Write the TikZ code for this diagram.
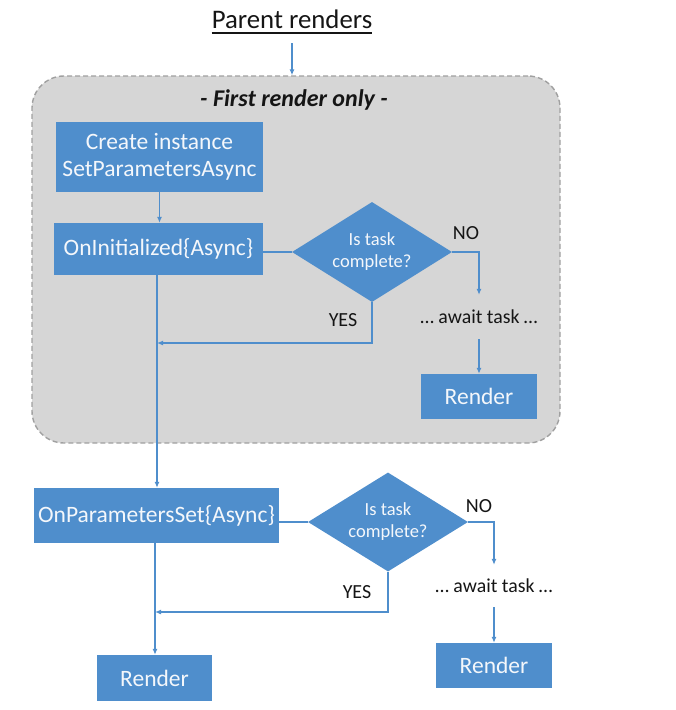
\documentclass[tikz,border=0pt]{standalone}
\usepackage{fontspec}
\setmainfont{Carlito}
\usetikzlibrary{shapes.geometric,arrows.meta}
\definecolor{boxblue}{HTML}{4F8ECC}
\definecolor{linblue}{HTML}{4F8ECC}
\definecolor{grayfill}{HTML}{D6D6D6}
\definecolor{grayline}{HTML}{A0A0A0}
\definecolor{boxtext}{HTML}{F4F7FB}
\definecolor{labtext}{HTML}{151515}
\tikzset{
  bluebox/.style={draw=none, fill=boxblue, text=boxtext, inner sep=0pt, align=center,
    font=\fontsize{23.5}{27}\selectfont},
  decide/.style={diamond, aspect=1.58, draw=none, fill=boxblue, text=boxtext, inner sep=0pt,
    align=center, minimum width=160pt, minimum height=100pt, font=\fontsize{18.5}{22}\selectfont},
  lab/.style={text=labtext, inner sep=0pt, font=\fontsize{20}{24}\selectfont},
  waitlab/.style={text=labtext, inner xsep=0pt, font=\fontsize{19.8}{22}\selectfont},
  conn/.style={draw=linblue, line width=1.7pt},
  arr/.style={conn, -{Latex[length=6pt,width=5pt]}},
}
\begin{document}
\begin{tikzpicture}[x=1pt,y=-1pt]
\useasboundingbox (0,0) rectangle (676,710);
% title
\node[anchor=base, inner xsep=0pt, inner ysep=15pt, text=labtext, font=\fontsize{26.8}{30}\selectfont] (title) at (292,28) {Parent renders};
\draw[line width=1.6pt, labtext] ([yshift=-5pt]title.base west) -- ([yshift=-5pt]title.base east);
% first render region
\node[draw=grayline, fill=grayfill, dash pattern=on 5pt off 3pt, line width=1.4pt,
      rounded corners=32pt, minimum width=528pt, minimum height=367pt, inner sep=0pt] (first) at (296,259.5) {};
\node[text=labtext, inner sep=0pt, font=\fontsize{24}{28}\bfseries\itshape\selectfont] (firstlab) at (294,100) {- First render only -};
\draw[arr] (title.south) -- (title.south |- first.north);
% nodes
\node[bluebox, minimum width=207pt, minimum height=70pt] (create) at (159.5,156.5) {Create instance\\SetParametersAsync};
\node[bluebox, minimum width=209pt, minimum height=52pt] (init) at (158.5,249) {OnInitialized\{Async\}};
\node[decide] (d1) at (372,252) {Is task\\complete?};
\node[lab] (no1) at (466,233) {NO};
\node[lab] (yes1) at (343,320) {YES};
\node[waitlab, inner ysep=15pt] (await1) at (479,317) {\ldots{} await task \ldots};
\node[bluebox, minimum width=116pt, minimum height=45pt] (render1) at (479,396.5) {Render};
\node[bluebox, minimum width=245pt, minimum height=55pt] (ops) at (156.5,515.5) {OnParametersSet\{Async\}};
\node[decide, minimum height=99pt] (d2) at (388,522) {Is task\\complete?};
\node[lab] (no2) at (479,506) {NO};
\node[lab] (yes2) at (357,592) {YES};
\node[waitlab, inner ysep=14pt] (await2) at (494,586) {\ldots{} await task \ldots};
\node[bluebox, minimum width=116pt, minimum height=45pt] (render2) at (494,665.5) {Render};
\node[bluebox, minimum width=115pt, minimum height=46pt] (render3) at (154.5,678) {Render};
\coordinate (j1) at (157,343);
\coordinate (j2) at (155,612);
% connectors
\draw[arr] (create.south) -- (create.south |- init.north);
\draw[conn] (init.east |- d1.west) -- (d1.west);
\draw[arr] (d1.east) -| (await1.north);
\draw[arr] (await1.south) -- (await1.south |- render1.north);
\draw[arr] (d1.south) |- (j1);
\draw[arr] (157,0 |- init.south) -- (157,0 |- ops.north);
\draw[conn] (ops.east |- d2.west) -- (d2.west);
\draw[arr] (d2.east) -| (await2.north);
\draw[arr] (await2.south) -- (await2.south |- render2.north);
\draw[arr] (d2.south) |- (j2);
\draw[arr] (155,0 |- ops.south) -- (155,0 |- render3.north);
\end{tikzpicture}
\end{document}
